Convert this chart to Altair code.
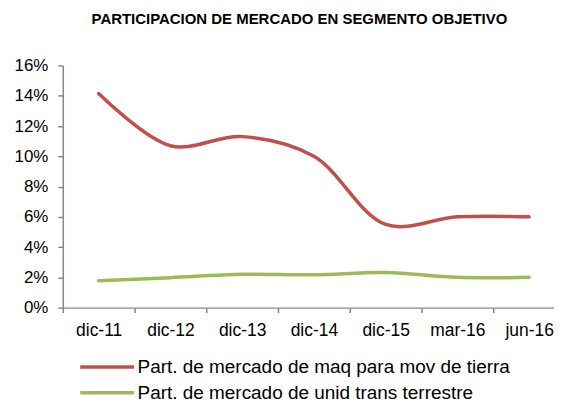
import altair as alt
import pandas as pd

categories = ["dic-11", "dic-12", "dic-13", "dic-14", "dic-15", "mar-16", "jun-16"]
series_names = [
    "Part. de mercado de maq para mov de tierra",
    "Part. de mercado de unid trans terrestre",
]
maq_values = [0.1415, 0.107, 0.113, 0.100, 0.055, 0.060, 0.060]
unid_values = [0.0178, 0.0198, 0.0220, 0.0217, 0.0232, 0.0200, 0.0200]
colors = ["#C0504D", "#9BBB59"]

rows = []
for i, c in enumerate(categories):
    rows.append({"idx": i, "cat": c, "serie": series_names[0], "valor": maq_values[i]})
    rows.append({"idx": i, "cat": c, "serie": series_names[1], "valor": unid_values[i]})
df = pd.DataFrame(rows)

n = len(categories)
tick_vals = []
for i in range(n):
    tick_vals.append(i - 0.5)
    tick_vals.append(i)
names_js = "[" + ",".join("'" + c + "'" for c in categories) + "]"
label_expr = f"datum.value % 1 === 0 ? {names_js}[datum.value] : ''"

FONT = "Liberation Sans"

chart = (
    alt.Chart(df)
    .mark_line(interpolate="catmull-rom", strokeWidth=3.5, strokeCap="round")
    .encode(
        x=alt.X(
            "idx:Q",
            scale=alt.Scale(domain=[-0.5, 6.347], nice=False, zero=False),
            axis=alt.Axis(
                values=tick_vals,
                labelExpr=label_expr,
                title=None,
                grid=False,
                tickSize=5,
                labelPadding=9,
                labelFlush=False,
                labelOverlap=False,
                labelFontSize=17.5,
                tickOpacity={"expr": "datum.value % 1 === 0 ? 0 : 1"},
            ),
        ),
        y=alt.Y(
            "valor:Q",
            scale=alt.Scale(domain=[0, 0.16], nice=False),
            axis=alt.Axis(
                values=[0, 0.02, 0.04, 0.06, 0.08, 0.10, 0.12, 0.14, 0.16],
                format=".0%",
                title=None,
                grid=False,
                tickSize=5,
                labelPadding=10,
                labelFontSize=17,
            ),
        ),
        color=alt.Color(
            "serie:N",
            scale=alt.Scale(domain=series_names, range=colors),
            legend=alt.Legend(
                title=None,
                orient="none",
                legendX=31,
                legendY=289,
                direction="vertical",
                symbolType="M-2.3,0H2.3",
                symbolSize=552,
                symbolStrokeWidth=3.5,
                labelOffset=17,
                rowPadding=2,
                labelFontSize=19,
                labelFont=FONT,
                labelColor="#000000",
                labelLimit=500,
            ),
        ),
    )
    .properties(
        width=493,
        height=243,
        padding={"left": 5, "top": 3, "right": 0, "bottom": 0},
        title=alt.TitleParams(
            "PARTICIPACION DE MERCADO EN SEGMENTO OBJETIVO",
            font=FONT,
            fontSize=15,
            fontWeight="bold",
            color="#000000",
            anchor="middle",
            frame="group",
            dx=-9,
            offset=30,
        ),
    )
    .configure_view(stroke=None)
    .configure_axis(
        labelFont=FONT,
        labelColor="#000000",
        domainColor="#868686",
        tickColor="#868686",
        domainWidth=1.5,
        tickWidth=1.5,
    )
)

chart.save("out.html", embed_options={"renderer": "svg", "actions": False})
